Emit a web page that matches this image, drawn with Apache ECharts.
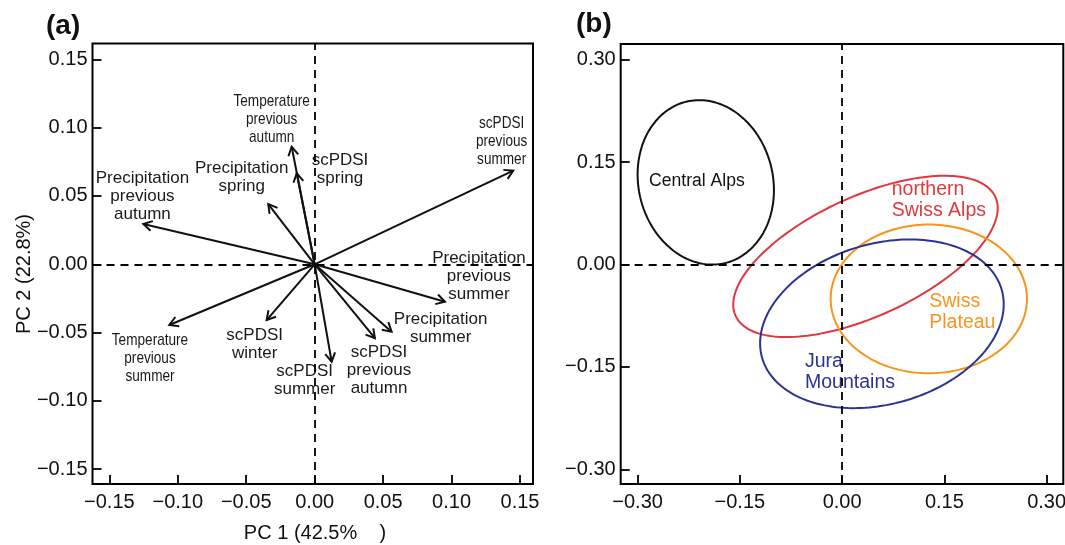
<!DOCTYPE html>
<html>
<head>
<meta charset="utf-8">
<script src="https://cdn.jsdelivr.net/npm/echarts@6/dist/echarts.min.js"></script>
<style>
  html, body { margin: 0; padding: 0; background: #fff; }
  #chart { width: 1065px; height: 545px; }
</style>
</head>
<body>
<div id="chart"></div>
<script>
// ---------- Panel (a): PCA loadings ----------
const variables = [
  'Precipitation\nprevious\nautumn',
  'Precipitation\nspring',
  'Temperature\nprevious\nautumn',
  'scPDSI\nspring',
  'scPDSI\nprevious\nsummer',
  'Precipitation\nprevious\nsummer',
  'Precipitation\nsummer',
  'scPDSI\nprevious\nautumn',
  'scPDSI\nsummer',
  'scPDSI\nwinter',
  'Temperature\nprevious\nsummer'
];
const pc1 = [-0.1252, -0.0339, -0.0168, -0.0131, 0.1451, 0.0952, 0.0562, 0.0440, 0.0124, -0.0351, -0.1062];
const pc2 = [ 0.0295,  0.0441,  0.0860,  0.0666, 0.0685, -0.0274, -0.0493, -0.0541, -0.0713, -0.0408, -0.0444];
// label anchor points (data units) for each variable
const labelPC1 = [-0.1258, -0.0533, -0.0314, 0.0185, 0.1366, 0.1200, 0.0920, 0.0470, -0.0073, -0.0438, -0.1203];
const labelPC2 = [ 0.0500,  0.0635,  0.1061, 0.0696, 0.0897, -0.0086, -0.0468, -0.0779, -0.0847, -0.0588, -0.0688];
const narrowLabels = ['Temperature\nprevious\nautumn', 'scPDSI\nprevious\nsummer', 'Temperature\nprevious\nsummer'];

const ticksA = [-0.15, -0.10, -0.05, 0.00, 0.05, 0.10, 0.15];
const xTitleA = 'PC 1 (42.5%    )';
const yTitleA = 'PC 2 (22.8%)';

// ---------- Panel (b): region ellipses ----------
const regions = ['Central Alps', 'northern\nSwiss Alps', 'Swiss\nPlateau', 'Jura\nMountains'];
const ellCenterX = [-0.2000, 0.0343, 0.1272, 0.0584];
const ellCenterY = [ 0.1205, 0.0120, -0.0503, -0.0868];
const ellHalfW   = [ 0.1000, 0.1940, 0.1440, 0.1787];
const ellHalfH   = [ 0.1205, 0.1182, 0.1090, 0.1236];
const ellCov     = [-0.00115, 0.0137, 0.0000, 0.0051];
const regionLabelX = [-0.2833, 0.0728, 0.1279, -0.0544];
const regionLabelY = [ 0.1230, 0.0942, -0.0695, -0.1577];
const regionColors = ['#111111', '#e0383e', '#f7941d', '#2b3393'];

const ticksB = [-0.30, -0.15, 0.00, 0.15, 0.30];

// ---------- build ----------
const FONT = '"Liberation Sans", Arial, Helvetica, sans-serif';
const fmt = v => v.toFixed(2).replace('-', '\u2212');

function ellipsePoints(i) {
  const pts = [];
  const W = ellHalfW[i], H = ellHalfH[i], C = ellCov[i];
  const k = C / W, r = Math.sqrt(H * H - k * k);
  for (let d = 0; d <= 360; d += 2) {
    const t = d * Math.PI / 180;
    pts.push([ellCenterX[i] + W * Math.cos(t), ellCenterY[i] + k * Math.cos(t) + r * Math.sin(t)]);
  }
  return pts;
}

function valueAxis(gridIndex, min, max, ticks, margin) {
  return {
    type: 'value', gridIndex, min, max,
    axisLine: { show: false, onZero: false },
    splitLine: { show: false },
    axisTick: { show: true, inside: true, length: 9, customValues: ticks,
                lineStyle: { color: '#000', width: 1.8 } },
    axisLabel: { show: true, customValues: ticks, formatter: fmt, margin: margin,
                 color: '#111', fontSize: 20, fontFamily: FONT }
  };
}

const zeroLines = (xi, yi) => ({
  type: 'line', xAxisIndex: xi, yAxisIndex: yi, data: [], silent: true,
  markLine: {
    silent: true, symbol: 'none', animation: false,
    label: { show: false },
    lineStyle: { color: '#000', width: 1.8, type: [8, 6] },
    emphasis: { disabled: true },
    data: [{ xAxis: 0 }, { yAxis: 0 }]
  }
});

const arrowData = pc1.map((x, i) => [x, pc2[i]]);
const labelData = variables.map((n, i) => ({ value: [labelPC1[i], labelPC2[i]], name: n }));

const option = {
  animation: false,
  backgroundColor: '#ffffff',
  grid: [
    { left: 92.5, top: 43.5, width: 440.5, height: 440.5, show: true,
      borderColor: '#000', borderWidth: 2, backgroundColor: 'transparent',
      containLabel: false, outerBoundsMode: 'none' },
    { left: 620.7, top: 44, width: 442.6, height: 440, show: true,
      borderColor: '#000', borderWidth: 2, backgroundColor: 'transparent',
      containLabel: false, outerBoundsMode: 'none' }
  ],
  xAxis: [
    valueAxis(0, -0.1623, 0.1595, ticksA, 8),
    valueAxis(1, -0.3248, 0.3245, ticksB, 8)
  ],
  yAxis: [
    valueAxis(0, -0.1608, 0.1616, ticksA, 5),
    valueAxis(1, -0.3216, 0.3233, ticksB, 5)
  ],
  graphic: [
    { type: 'text', left: 46, top: 12, style: { text: '(a)', font: 'bold 28px ' + FONT, fill: '#111' } },
    { type: 'text', left: 576, top: 10, style: { text: '(b)', font: 'bold 28px ' + FONT, fill: '#111' } },
    { type: 'text', x: 315, y: 533, style: { text: xTitleA, font: '20px ' + FONT, fill: '#111',
      align: 'center', verticalAlign: 'middle' } },
    { type: 'text', x: 24, y: 274, rotation: Math.PI / 2,
      style: { text: yTitleA, font: '20px ' + FONT, fill: '#111', align: 'center', verticalAlign: 'middle' } }
  ],
  series: [
    zeroLines(0, 0),
    {
      type: 'custom', xAxisIndex: 0, yAxisIndex: 0, silent: true,
      data: arrowData,
      renderItem: function (params, api) {
        const p0 = api.coord([0, 0]);
        const p1 = api.coord([api.value(0), api.value(1)]);
        const ang = Math.atan2(p1[1] - p0[1], p1[0] - p0[0]);
        const L = 10, A = Math.PI / 6;
        const h1 = [p1[0] - L * Math.cos(ang - A), p1[1] - L * Math.sin(ang - A)];
        const h2 = [p1[0] - L * Math.cos(ang + A), p1[1] - L * Math.sin(ang + A)];
        return {
          type: 'group',
          children: [
            { type: 'line', shape: { x1: p0[0], y1: p0[1], x2: p1[0], y2: p1[1] },
              style: { stroke: '#111', lineWidth: 2 } },
            { type: 'polyline', shape: { points: [h1, p1, h2] },
              style: { stroke: '#111', lineWidth: 2, fill: null } }
          ]
        };
      }
    },
    {
      type: 'custom', xAxisIndex: 0, yAxisIndex: 0, silent: true,
      data: labelData,
      renderItem: function (params, api) {
        const p = api.coord([api.value(0), api.value(1)]);
        const name = variables[params.dataIndex];
        const narrow = narrowLabels.indexOf(name) >= 0;
        return {
          type: 'text', x: p[0], y: p[1], scaleX: narrow ? 0.8 : 1,
          style: {
            text: name, fill: '#1a1a1a', font: '17px ' + FONT,
            align: 'center', verticalAlign: 'middle', lineHeight: 18
          }
        };
      }
    },
    zeroLines(1, 1)
  ].concat(regions.map((r, i) => ({
    type: 'line', xAxisIndex: 1, yAxisIndex: 1, silent: true,
    data: ellipsePoints(i), showSymbol: false, symbol: 'none', smooth: false,
    lineStyle: { color: regionColors[i], width: 2 }
  }))).concat([{
    type: 'custom', xAxisIndex: 1, yAxisIndex: 1, silent: true,
    data: regions.map((r, i) => [regionLabelX[i], regionLabelY[i]]),
    renderItem: function (params, api) {
      const i = params.dataIndex;
      const p = api.coord([api.value(0), api.value(1)]);
      return {
        type: 'text', x: p[0], y: p[1],
        style: {
          text: regions[i], fill: regionColors[i],
          font: (i === 0 ? '17.6px ' : '19.5px ') + FONT,
          align: 'left', verticalAlign: 'middle', lineHeight: 21
        }
      };
    }
  }])
};

const chart = echarts.init(document.getElementById('chart'), null, { renderer: 'canvas' });
chart.setOption(option);
</script>
</body>
</html>
